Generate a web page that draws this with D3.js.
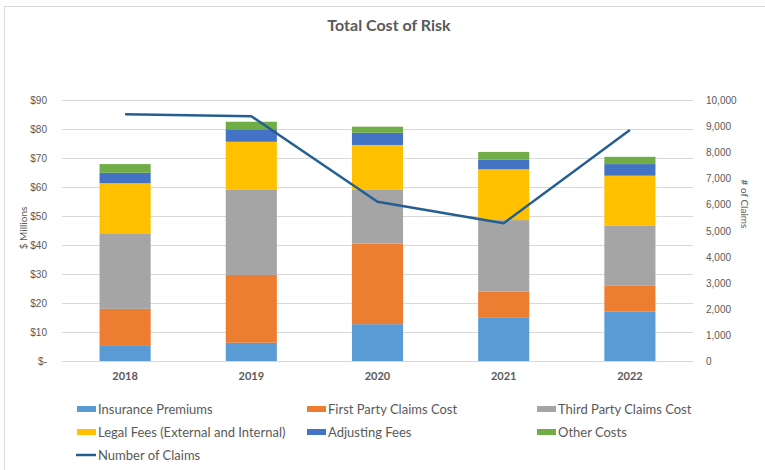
<!DOCTYPE html>
<html>
<head>
<meta charset="utf-8">
<script src="https://cdn.jsdelivr.net/npm/d3@7"></script>
<style>
  body { margin: 0; background: #fff; }
  svg { display: block; font-family: Lato, "Open Sans", sans-serif; }
</style>
</head>
<body>
<div id="chart"></div>
<script>
// data
var years = ["2018", "2019", "2020", "2021", "2022"];
var seriesNames = ["Insurance Premiums", "First Party Claims Cost", "Third Party Claims Cost",
                   "Legal Fees (External and Internal)", "Adjusting Fees", "Other Costs"];
var seriesColors = ["#5B9BD5", "#ED7D31", "#A5A5A5", "#FFC000", "#4472C4", "#70AD47"];
var insurance   = [5.2, 6.3, 12.7, 15.1, 17.0];
var firstParty  = [12.8, 23.4, 27.8, 8.8, 9.1];
var thirdParty  = [25.8, 29.3, 18.5, 24.7, 20.5];
var legalFees   = [17.5, 16.6, 15.5, 17.5, 17.3];
var adjusting   = [3.6, 4.3, 4.2, 3.4, 4.0];
var otherCosts  = [3.0, 2.6, 2.1, 2.6, 2.5];
var claims      = [9450, 9380, 6100, 5280, 8850];
var leftTicks   = [0, 10, 20, 30, 40, 50, 60, 70, 80, 90];
var rightTicks  = [0, 1000, 2000, 3000, 4000, 5000, 6000, 7000, 8000, 9000, 10000];

var allSeries = [insurance, firstParty, thirdParty, legalFees, adjusting, otherCosts];
var rows = years.map(function(y, i) {
  var r = {year: y};
  seriesNames.forEach(function(n, k) { r[n] = allSeries[k][i]; });
  return r;
});

var W = 765, H = 470;
var plot = {left: 62, right: 693, top: 100, bottom: 361};
var textColor = "#595959";

var svg = d3.select("#chart").append("svg")
    .attr("width", W)
    .attr("height", H);

// chart frame (top and left edges visible)
svg.append("line").attr("x1", 4.5).attr("x2", W).attr("y1", 6.5).attr("y2", 6.5)
   .attr("stroke", "#D9D9D9");
svg.append("line").attr("x1", 4.5).attr("x2", 4.5).attr("y1", 6.5).attr("y2", H)
   .attr("stroke", "#D9D9D9");

var x = d3.scaleBand().domain(years).range([plot.left, plot.right]).paddingInner(0.595).paddingOuter(0.2975);
var y = d3.scaleLinear().domain([0, 90]).range([plot.bottom, plot.top]);
var y2 = d3.scaleLinear().domain([0, 10000]).range([plot.bottom, plot.top]);

// gridlines
svg.append("g").selectAll("line").data(leftTicks).enter().append("line")
   .attr("x1", plot.left).attr("x2", plot.right)
   .attr("y1", function(d) { return Math.round(y(d)) + 0.5; })
   .attr("y2", function(d) { return Math.round(y(d)) + 0.5; })
   .attr("stroke", "#D9D9D9");

// left axis
var leftAxis = svg.append("g")
    .attr("transform", "translate(" + (plot.left - 12) + ",0)")
    .call(d3.axisLeft(y).tickValues(leftTicks).tickSize(0)
      .tickFormat(function(d) { return d === 0 ? "$-" : "$" + d; }));
leftAxis.select(".domain").remove();
leftAxis.selectAll("text").attr("fill", textColor).style("font-size", "10px").attr("dy", "0.35em");

// right axis
var rightAxis = svg.append("g")
    .attr("transform", "translate(" + (plot.right + 10) + ",0)")
    .call(d3.axisRight(y2).tickValues(rightTicks).tickSize(0).tickFormat(d3.format(",")));
rightAxis.select(".domain").remove();
rightAxis.selectAll("text").attr("fill", textColor).style("font-size", "10px").attr("dy", "0.35em");

// stacked bars
var stack = d3.stack().keys(seriesNames);
var layers = stack(rows);
svg.append("g").selectAll("g").data(layers).enter().append("g")
   .attr("fill", function(d, i) { return seriesColors[i]; })
   .selectAll("rect").data(function(d) { return d; }).enter().append("rect")
   .attr("x", function(d) { return x(d.data.year); })
   .attr("width", x.bandwidth())
   .attr("y", function(d) { return y(d[1]); })
   .attr("height", function(d) { return y(d[0]) - y(d[1]); });

// x labels
svg.append("g").selectAll("text").data(years).enter().append("text")
   .attr("x", function(d) { return x(d) + x.bandwidth() / 2; })
   .attr("y", 380)
   .attr("text-anchor", "middle")
   .attr("fill", textColor)
   .style("font-size", "11px")
   .style("font-weight", "bold")
   .text(function(d) { return d; });

// line for claims
var line = d3.line()
    .x(function(d, i) { return x(years[i]) + x.bandwidth() / 2; })
    .y(function(d) { return y2(d); });
svg.append("path").datum(claims)
   .attr("d", line)
   .attr("fill", "none")
   .attr("stroke", "#255E91")
   .attr("stroke-width", 2.5)
   .attr("stroke-linejoin", "round");

// title
svg.append("text")
   .attr("x", 389).attr("y", 31)
   .attr("text-anchor", "middle")
   .attr("fill", textColor)
   .style("font-size", "16px")
   .style("font-weight", "bold")
   .text("Total Cost of Risk");

// axis titles
svg.append("text")
   .attr("transform", "translate(27,228) rotate(-90)")
   .attr("text-anchor", "middle")
   .attr("fill", textColor)
   .style("font-size", "10px")
   .text("$ Millions");
svg.append("text")
   .attr("transform", "translate(741,204) rotate(90)")
   .attr("text-anchor", "middle")
   .attr("fill", textColor)
   .style("font-size", "10px")
   .text("# of Claims");

// legend
var legendCols = [77, 307, 537];
var legendRows = [409, 432];
var legend = svg.append("g");
seriesNames.forEach(function(n, i) {
  var lx = legendCols[i % 3], ly = legendRows[Math.floor(i / 3)];
  legend.append("rect")
    .attr("x", lx).attr("y", ly - 3)
    .attr("width", 19).attr("height", 6)
    .attr("fill", seriesColors[i]);
  legend.append("text")
    .attr("x", lx + 21).attr("y", ly)
    .attr("dy", "0.35em")
    .attr("fill", textColor)
    .style("font-size", "13px")
    .text(n);
});
legend.append("line")
  .attr("x1", 76).attr("x2", 96).attr("y1", 455).attr("y2", 455)
  .attr("stroke", "#255E91").attr("stroke-width", 2.5);
legend.append("text")
  .attr("x", 98).attr("y", 455).attr("dy", "0.35em")
  .attr("fill", textColor)
  .style("font-size", "13px")
  .text("Number of Claims");
</script>
</body>
</html>
